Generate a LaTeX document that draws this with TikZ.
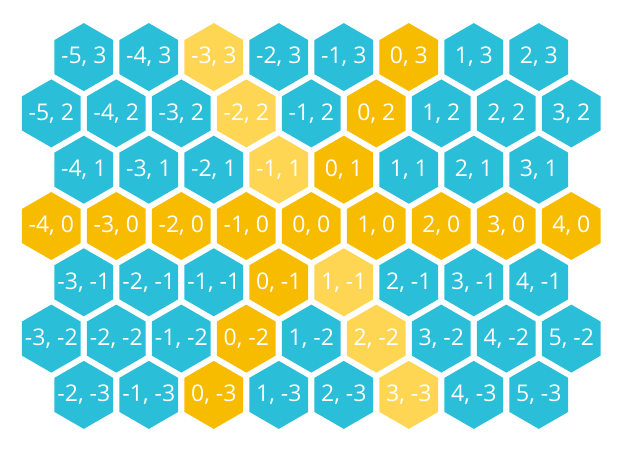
\documentclass[tikz,border=0pt]{standalone}
\usepackage{fontspec}
\setmainfont{Open Sans}
\usetikzlibrary{shapes.geometric}
\definecolor{hexblue}{RGB}{43,190,217}
\definecolor{hexgold}{RGB}{247,187,0}
\definecolor{hexlight}{RGB}{255,213,84}
\tikzset{
  hexcell/.style={regular polygon, regular polygon sides=6, shape border rotate=30,
    minimum size=68pt, inner sep=0pt, outer sep=0pt, draw=none,
    text=white, font=\fontsize{23}{26}\selectfont}
}
\begin{document}
\begin{tikzpicture}[x=1pt,y=1pt]
  \useasboundingbox (0,0) rectangle (625,450);
  % axial grid: row r, q from qmin to qmax
  \foreach \r/\qmin/\qmax in {3/-5/2, 2/-5/3, 1/-4/3, 0/-4/4, -1/-3/4, -2/-3/5, -3/-2/5}{
    \foreach \q in {\qmin,...,\qmax}{
      % colour: q=0 or r=0 gold, s=0 light, else blue
      \def\hexcol{hexblue}
      \ifnum\numexpr\q+\r\relax=0 \def\hexcol{hexlight}\fi
      \ifnum\q=0 \def\hexcol{hexgold}\fi
      \ifnum\r=0 \def\hexcol{hexgold}\fi
      \node[hexcell, fill=\hexcol] (hex q\q r\r)
        at ({51.3+65*(\q+4+\r/2)},{224+56.3*\r}) {\makebox[0pt]{\q, \r}};
    }
  }
\end{tikzpicture}
\end{document}
